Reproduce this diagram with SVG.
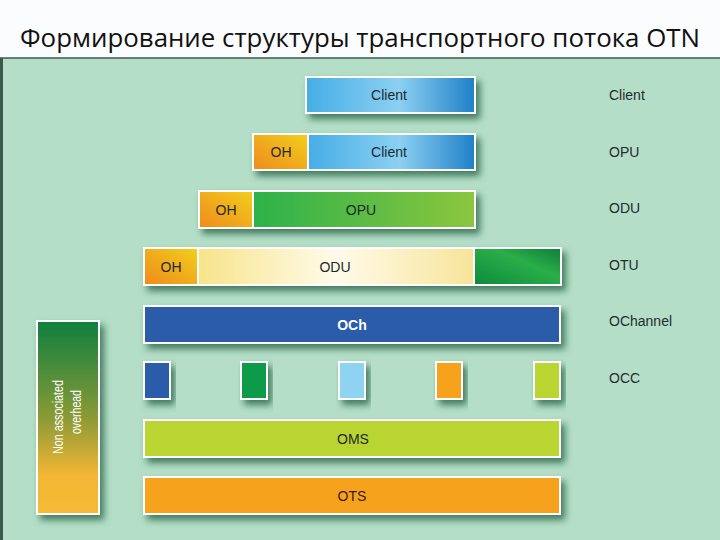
<svg xmlns="http://www.w3.org/2000/svg" width="720" height="540" viewBox="0 0 720 540">
<defs>
<style>
.box{stroke:#ffffff;stroke-width:2}
.lbl{font-family:"Liberation Sans",Arial,sans-serif;font-size:14px;fill:#1a2a2a;text-anchor:middle}
.side{font-family:"Liberation Sans",Arial,sans-serif;font-size:14px;fill:#1f2d2d}
</style>
<filter id="sh" x="-10%" y="-30%" width="130%" height="190%">
<feDropShadow dx="4" dy="5" stdDeviation="3.5" flood-color="#1f5a3a" flood-opacity="0.75"/>
</filter>
<linearGradient id="gClient" x1="0" y1="0" x2="1" y2="0">
<stop offset="0" stop-color="#45aee6"/>
<stop offset="0.55" stop-color="#8cd0f2"/>
<stop offset="1" stop-color="#1f80c8"/>
</linearGradient>
<linearGradient id="gOH" x1="0" y1="1" x2="1" y2="0">
<stop offset="0" stop-color="#ef8a1f"/>
<stop offset="1" stop-color="#f2cf1e"/>
</linearGradient>
<linearGradient id="gOPU" x1="0" y1="0" x2="1" y2="0">
<stop offset="0" stop-color="#2db24a"/>
<stop offset="1" stop-color="#8cc63f"/>
</linearGradient>
<linearGradient id="gODU" x1="0" y1="0" x2="1" y2="0">
<stop offset="0" stop-color="#f7e48a"/>
<stop offset="0.5" stop-color="#fffbea"/>
<stop offset="1" stop-color="#f7e49a"/>
</linearGradient>
<linearGradient id="gFEC" x1="0" y1="1" x2="1" y2="0">
<stop offset="0" stop-color="#0d8a3e"/>
<stop offset="0.6" stop-color="#2aae48"/>
<stop offset="1" stop-color="#0f7c3a"/>
</linearGradient>
<linearGradient id="gNA" x1="0" y1="0" x2="0" y2="1">
<stop offset="0" stop-color="#0d7f3f"/>
<stop offset="0.5" stop-color="#8a9a35"/>
<stop offset="0.8" stop-color="#f3b634"/>
<stop offset="1" stop-color="#f7ba36"/>
</linearGradient>
</defs>
<rect x="0" y="0" width="720" height="58" fill="#fbfcfd"/>
<rect x="0" y="58" width="720" height="482" fill="#b4dec7"/>
<line x1="0" y1="58" x2="720" y2="58" stroke="#3c5a4c" stroke-width="1.5"/>
<line x1="1.5" y1="58" x2="1.5" y2="540" stroke="#3c5a4c" stroke-width="3"/>
<text x="360" y="47" font-family="'Open Sans','Liberation Sans',sans-serif" font-size="25" fill="#111" text-anchor="middle" textLength="680" lengthAdjust="spacingAndGlyphs">Формирование структуры транспортного потока OTN</text>

<g id="client">
<rect class="box" x="306" y="77" width="169" height="36" fill="url(#gClient)" filter="url(#sh)"/>
<text class="lbl" x="389" y="100">Client</text>
</g>
<g id="opu">
<g filter="url(#sh)">
<rect class="box" x="253" y="134" width="55" height="36" fill="url(#gOH)"/>
<rect class="box" x="308" y="134" width="167" height="36" fill="url(#gClient)"/>
</g>
<text class="lbl" x="281" y="157">OH</text>
<text class="lbl" x="389" y="157">Client</text>
</g>
<g id="odu">
<g filter="url(#sh)">
<rect class="box" x="199" y="191" width="54" height="37" fill="url(#gOH)"/>
<rect class="box" x="253" y="191" width="222" height="37" fill="url(#gOPU)"/>
</g>
<text class="lbl" x="226" y="215">OH</text>
<text class="lbl" x="361" y="215">OPU</text>
</g>
<g id="otu">
<g filter="url(#sh)">
<rect class="box" x="144" y="248" width="54" height="37" fill="url(#gOH)"/>
<rect class="box" x="198" y="248" width="276" height="37" fill="url(#gODU)"/>
<rect class="box" x="474" y="248" width="87" height="37" fill="url(#gFEC)"/>
</g>
<text class="lbl" x="171" y="272">OH</text>
<text class="lbl" x="335" y="272">ODU</text>
</g>
<g id="och">
<rect class="box" x="144" y="306" width="416" height="37" fill="#2a5ca9" filter="url(#sh)"/>
<text class="lbl" x="352" y="330" style="fill:#ffffff;font-weight:bold">OCh</text>
</g>
<g id="occ">
<rect class="box" x="144" y="362" width="26" height="37" fill="#2a5ca9" filter="url(#sh)"/>
<rect class="box" x="241" y="362" width="26" height="37" fill="#0f9a48" filter="url(#sh)"/>
<rect class="box" x="339" y="362" width="26" height="37" fill="#8fd3f3" filter="url(#sh)"/>
<rect class="box" x="436" y="362" width="26" height="37" fill="#f6a21f" filter="url(#sh)"/>
<rect class="box" x="534" y="362" width="26" height="37" fill="#bad432" filter="url(#sh)"/>
</g>
<g id="oms">
<rect class="box" x="144" y="420" width="416" height="37" fill="#bad432" filter="url(#sh)"/>
<text class="lbl" x="353" y="444">OMS</text>
</g>
<g id="ots">
<rect class="box" x="144" y="477" width="416" height="37" fill="#f6a21f" filter="url(#sh)"/>
<text class="lbl" x="352" y="501" style="fill:#3a1a0a">OTS</text>
</g>
<g id="nonassoc">
<rect class="box" x="37" y="321" width="62" height="193" fill="url(#gNA)" filter="url(#sh)"/>
<text transform="translate(63,417) rotate(-90)" font-family="'Liberation Sans',Arial,sans-serif" font-size="14" fill="#ffffff" text-anchor="middle" textLength="74" lengthAdjust="spacingAndGlyphs">Non associated</text>
<text transform="translate(81,412) rotate(-90)" font-family="'Liberation Sans',Arial,sans-serif" font-size="14" fill="#ffffff" text-anchor="middle" textLength="44" lengthAdjust="spacingAndGlyphs">overhead</text>
</g>
<g id="labels">
<text class="side" x="609" y="100">Client</text>
<text class="side" x="609" y="157">OPU</text>
<text class="side" x="609" y="213">ODU</text>
<text class="side" x="609" y="270">OTU</text>
<text class="side" x="609" y="326">OChannel</text>
<text class="side" x="609" y="383">OCC</text>
</g>
<g id="connectors"></g>
</svg>
